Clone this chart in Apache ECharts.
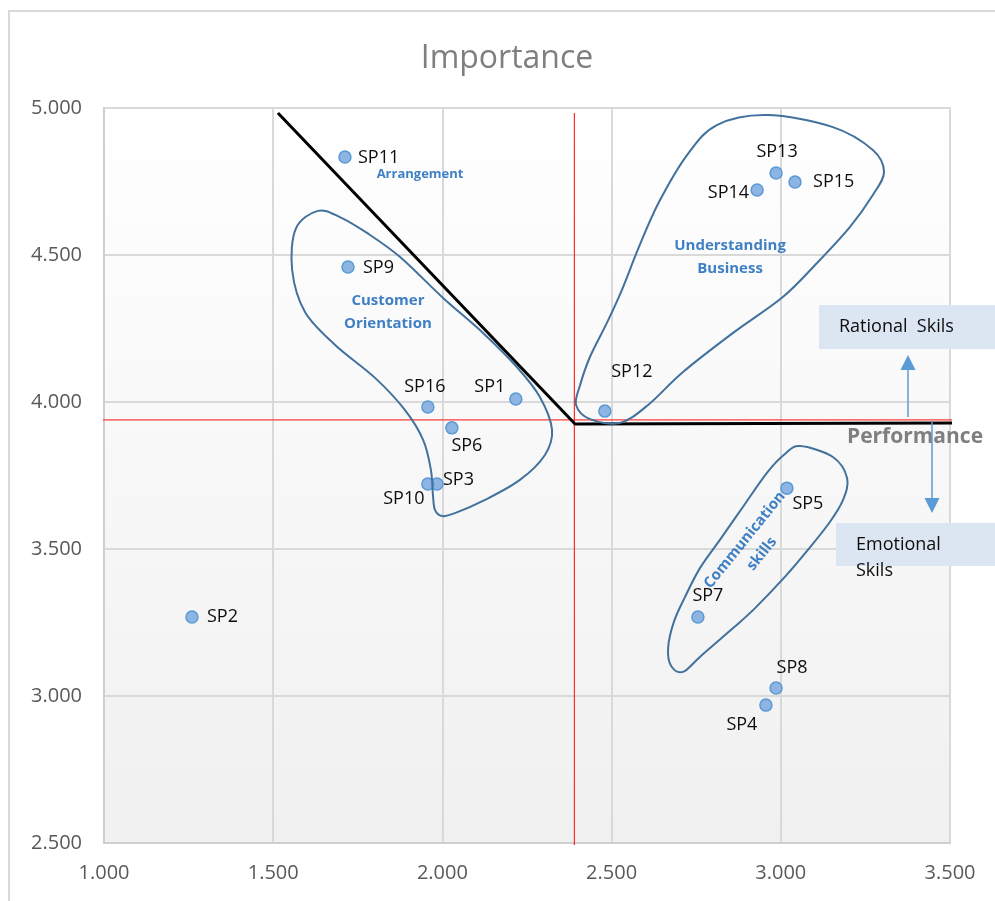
<!DOCTYPE html>
<html>
<head>
<meta charset="utf-8">
<script src="https://cdn.jsdelivr.net/npm/echarts@6/dist/echarts.min.js"></script>
<style>
  html, body { margin: 0; padding: 0; background: #ffffff; }
  #chart { width: 995px; height: 901px; }
</style>
</head>
<body>
<div id="chart"></div>
<script>
// Skill points: performance (x) vs importance (y)
const pointNames = ['SP1','SP2','SP3','SP4','SP5','SP6','SP7','SP8','SP9','SP10','SP11','SP12','SP13','SP14','SP15','SP16'];
const performance = [2.217,1.260,1.984,2.956,3.018,2.028,2.755,2.986,1.721,1.957,1.712,2.480,2.986,2.930,3.042,1.957];
const importance  = [4.010,3.269,3.721,2.969,3.707,3.912,3.269,3.027,4.459,3.721,4.833,3.969,4.779,4.721,4.748,3.983];

// Axis ranges
const xTicks = [1.0, 1.5, 2.0, 2.5, 3.0, 3.5];
const yTicks = [2.5, 3.0, 3.5, 4.0, 4.5, 5.0];

// Mean lines (red) and the dividing frontier (black)
const meanVertical = [[2.39, 4.983], [2.39, 2.493]];
const meanHorizontal = [[0.979, 3.939], [3.506, 3.939]];
const frontier = [[1.514, 4.983], [2.392, 3.925], [3.518, 3.929]];

// Group outlines, in axis units
const customerOutline = [[1.632,4.650],[1.697,4.629],[1.777,4.575],[1.875,4.493],[2.002,4.354],[2.120,4.235],[2.220,4.119],[2.288,4.017],[2.324,3.905],[2.303,3.820],[2.229,3.735],[2.126,3.667],[2.037,3.622],[1.999,3.612],[1.978,3.633],[1.972,3.684],[1.966,3.769],[1.943,3.871],[1.889,3.973],[1.801,4.082],[1.683,4.194],[1.594,4.306],[1.556,4.449],[1.567,4.590]];
const businessOutline = [[2.395,3.990],[2.407,4.058],[2.436,4.153],[2.486,4.269],[2.530,4.380],[2.580,4.525],[2.640,4.680],[2.723,4.840],[2.811,4.942],[2.959,4.976],[3.154,4.935],[3.272,4.857],[3.305,4.782],[3.272,4.704],[3.204,4.595],[3.107,4.473],[3.006,4.357],[2.859,4.235],[2.711,4.102],[2.608,3.990],[2.525,3.929],[2.436,3.942]];
const communicationOutline = [[3.057,3.850],[3.154,3.813],[3.196,3.741],[3.184,3.667],[3.145,3.592],[3.080,3.497],[3.012,3.405],[2.924,3.299],[2.859,3.231],[2.761,3.133],[2.711,3.082],[2.676,3.102],[2.667,3.163],[2.684,3.252],[2.717,3.337],[2.761,3.435],[2.820,3.531],[2.888,3.643],[2.959,3.759],[3.012,3.823]];
const groupOutlines = [customerOutline, businessOutline, communicationOutline];

// Group names and where they sit
const groupNames = ['Arrangement', 'Customer\nOrientation', 'Understanding\nBusiness', 'Communication\nskills'];
const groupAnchors = [[1.934, 4.776], [1.839, 4.306], [2.850, 4.493], [2.919, 3.507]];
const groupTextStyle = [
  { size: 13, rotate: 0, lineHeight: 16 },
  { size: 15, rotate: 0, lineHeight: 23 },
  { size: 15, rotate: 0, lineHeight: 23 },
  { size: 15, rotate: 51, lineHeight: 22 }
];

// Per-point label placement (offset from the marker centre)
const labelPlacement = {
  SP1:  { align: 'center', dx: -26, dy: -12 },
  SP2:  { align: 'left',   dx: 15,  dy: 0 },
  SP3:  { align: 'left',   dx: 6,   dy: -4 },
  SP4:  { align: 'center', dx: -24, dy: 20 },
  SP5:  { align: 'center', dx: 21,  dy: 16 },
  SP6:  { align: 'center', dx: 15,  dy: 18 },
  SP7:  { align: 'center', dx: 10,  dy: -21 },
  SP8:  { align: 'center', dx: 16,  dy: -20 },
  SP9:  { align: 'left',   dx: 15,  dy: 1 },
  SP10: { align: 'center', dx: -24, dy: 15 },
  SP11: { align: 'left',   dx: 13,  dy: 1 },
  SP12: { align: 'center', dx: 27,  dy: -39 },
  SP13: { align: 'center', dx: 1,   dy: -21 },
  SP14: { align: 'right',  dx: -8,  dy: 3 },
  SP15: { align: 'left',   dx: 18,  dy: 0 },
  SP16: { align: 'center', dx: -3,  dy: -20 }
};

const FONT = '"Open Sans", "Liberation Sans", sans-serif';
const TEXT_DARK = '#0d0d0d';

// Closed Catmull-Rom spline through pixel points, as SVG path data
function closedSpline(pts) {
  const n = pts.length;
  let d = 'M' + pts[0][0] + ',' + pts[0][1];
  for (let i = 0; i < n; i++) {
    const p0 = pts[(i - 1 + n) % n], p1 = pts[i], p2 = pts[(i + 1) % n], p3 = pts[(i + 2) % n];
    const c1x = p1[0] + (p2[0] - p0[0]) / 6, c1y = p1[1] + (p2[1] - p0[1]) / 6;
    const c2x = p2[0] - (p3[0] - p1[0]) / 6, c2y = p2[1] - (p3[1] - p1[1]) / 6;
    d += ' C' + c1x + ',' + c1y + ' ' + c2x + ',' + c2y + ' ' + p2[0] + ',' + p2[1];
  }
  return d + ' Z';
}

const pointData = pointNames.map((name, i) => {
  const p = labelPlacement[name];
  return {
    name: name,
    value: [performance[i], importance[i]],
    label: { align: p.align, offset: [p.dx, p.dy] }
  };
});

const chart = echarts.init(document.getElementById('chart'), null, { renderer: 'canvas' });

const option = {
  animation: false,
  backgroundColor: '#ffffff',
  title: {
    text: 'Importance',
    left: 502,
    top: 38,
    textAlign: 'center',
    textStyle: { fontFamily: FONT, fontSize: 32, fontWeight: 'normal', color: '#7f7f7f' }
  },
  grid: {
    left: 104, right: 45, top: 108, bottom: 58,
    show: true,
    borderColor: '#d9d9d9',
    borderWidth: 2,
    backgroundColor: {
      type: 'linear', x: 0, y: 0, x2: 0, y2: 1,
      colorStops: [{ offset: 0, color: '#ffffff' }, { offset: 1, color: '#f0f0f0' }]
    }
  },
  xAxis: {
    type: 'value',
    min: xTicks[0], max: xTicks[xTicks.length - 1], interval: 0.5,
    axisLine: { show: true, lineStyle: { color: '#cfcfcf', width: 2 } },
    axisTick: { show: false },
    splitLine: { show: true, lineStyle: { color: '#d9d9d9', width: 2 } },
    axisLabel: {
      margin: 20, color: '#595959', fontFamily: FONT, fontSize: 20,
      formatter: v => v.toFixed(3)
    }
  },
  yAxis: {
    type: 'value',
    min: yTicks[0], max: yTicks[yTicks.length - 1], interval: 0.5,
    axisLine: { show: true, lineStyle: { color: '#cfcfcf', width: 2 } },
    axisTick: { show: false },
    splitLine: { show: true, lineStyle: { color: '#d9d9d9', width: 2 } },
    axisLabel: {
      margin: 22, color: '#595959', fontFamily: FONT, fontSize: 20,
      formatter: v => v.toFixed(3)
    }
  },
  series: [
    {
      name: 'Mean performance',
      type: 'line', data: meanVertical, clip: false, symbol: 'none', silent: true, z: 1,
      lineStyle: { color: '#ff2a2a', width: 1.2 }
    },
    {
      name: 'Mean importance',
      type: 'line', data: meanHorizontal, clip: false, symbol: 'none', silent: true, z: 1,
      lineStyle: { color: '#ff3c3c', width: 1.2 }
    },
    {
      name: 'Frontier',
      type: 'line', data: frontier, clip: false, symbol: 'none', silent: true, z: 2,
      lineStyle: { color: '#000000', width: 3 }
    },
    {
      name: 'Skills',
      type: 'scatter', data: pointData, z: 3,
      symbol: 'circle', symbolSize: 12,
      itemStyle: { color: '#8db4e2', borderColor: '#5b9bd5', borderWidth: 1.5, opacity: 1 },
      label: {
        show: true, position: 'inside', formatter: '{b}',
        verticalAlign: 'middle',
        color: TEXT_DARK, fontFamily: FONT, fontSize: 18
      }
    },
    {
      name: 'Groups',
      type: 'custom', z: 4, silent: true, clip: false,
      data: groupOutlines.map(o => o[0]),
      renderItem: function (params, api) {
        const pts = groupOutlines[params.dataIndex].map(p => api.coord(p));
        return {
          type: 'path',
          shape: { pathData: closedSpline(pts) },
          style: { fill: null, stroke: '#41719c', lineWidth: 2 }
        };
      }
    },
    {
      name: 'Group names',
      type: 'custom', z: 5, silent: true, clip: false,
      data: groupAnchors,
      renderItem: function (params, api) {
        const i = params.dataIndex;
        const c = api.coord(groupAnchors[i]);
        const s = groupTextStyle[i];
        return {
          type: 'text',
          x: c[0], y: c[1],
          rotation: s.rotate * Math.PI / 180,
          style: {
            text: groupNames[i],
            fill: '#3f7fc4',
            font: 'bold ' + s.size + 'px ' + FONT,
            align: 'center',
            verticalAlign: 'middle',
            lineHeight: s.lineHeight
          }
        };
      }
    }
  ],
  graphic: [
    { type: 'rect', silent: true, z: -10,
      shape: { x: 9, y: 11, width: 1000, height: 900 },
      style: { fill: null, stroke: '#d9d9d9', lineWidth: 2 } },
    { type: 'text', z: 10, x: 915, y: 437,
      style: { text: 'Performance', fill: '#7f7f7f', font: 'bold 21px ' + FONT, align: 'center', verticalAlign: 'middle' } },
    // Rational skills box and arrow
    { type: 'rect', z: 10, shape: { x: 819, y: 305, width: 180, height: 44 }, style: { fill: '#dce6f2' } },
    { type: 'text', z: 11, x: 839, y: 327,
      style: { text: 'Rational  Skils', fill: TEXT_DARK, font: '18px ' + FONT, align: 'left', verticalAlign: 'middle' } },
    { type: 'line', z: 10, shape: { x1: 908, y1: 417, x2: 908, y2: 368 }, style: { stroke: '#5b9bd5', lineWidth: 1.5 } },
    { type: 'polygon', z: 10, shape: { points: [[908, 355], [900.5, 370], [915.5, 370]] }, style: { fill: '#5b9bd5' } },
    // Emotional skills box and arrow
    { type: 'rect', z: 10, shape: { x: 836, y: 523, width: 163, height: 43 }, style: { fill: '#dce6f2' } },
    { type: 'text', z: 11, x: 856, y: 545,
      style: { text: 'Emotional', fill: TEXT_DARK, font: '18px ' + FONT, align: 'left', verticalAlign: 'middle' } },
    { type: 'text', z: 11, x: 856, y: 571,
      style: { text: 'Skils', fill: TEXT_DARK, font: '18px ' + FONT, align: 'left', verticalAlign: 'middle' } },
    { type: 'line', z: 10, shape: { x1: 932, y1: 422, x2: 932, y2: 500 }, style: { stroke: '#5b9bd5', lineWidth: 1.5 } },
    { type: 'polygon', z: 10, shape: { points: [[932, 513], [924.5, 498], [939.5, 498]] }, style: { fill: '#5b9bd5' } }
  ]
};

chart.setOption(option);
</script>
</body>
</html>
